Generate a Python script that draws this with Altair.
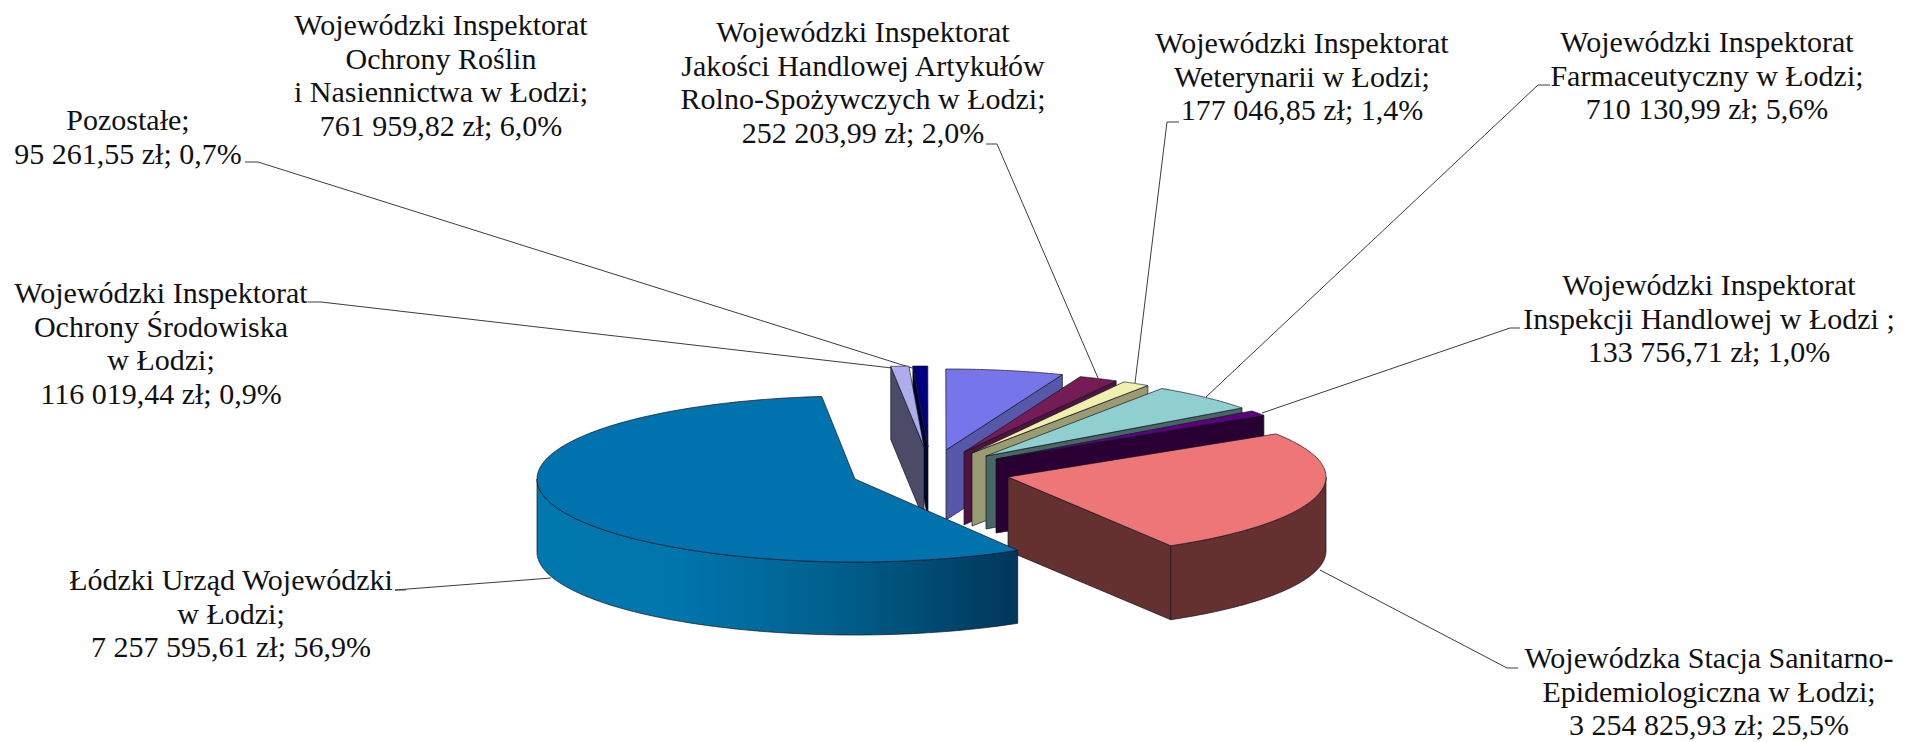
import numpy as np
import pandas as pd
import altair as alt

# --- values ---
names = ["Srodowisko", "Pozostale", "Rosliny", "Jakosc", "Weterynaria",
         "Farmacja", "Handel", "Sanepid", "Urzad"]
amounts = [116019.44, 95261.55, 761959.82, 252203.99, 177046.85,
           710130.99, 133756.71, 3254825.93, 7257595.61]
top_colors = ["#ADADEC", "#000080", "#7676EA", "#751C57", "#EFEFB0",
              "#90CFCF", "#5C0080", "#EE7676", "#0073AE"]
wall_colors = ["#4B4B68", "#00002E", "#5858AA", "#4E1440", "#9B9B73",
               "#476666", "#280033", "#653030", "#0073AE"]
apex_x = [924, 928, 946, 964, 972, 986, 996, 1008, 855]
apex_y = [447, 447, 450, 452, 453, 456, 459, 477, 479]
radius_y = [81, 81, 81, 81, 81, 81, 81, 80, 83]
depth = [73, 73, 70, 73, 73, 73, 74, 74, 73]
start_angle = -6.0
radius_x = 318.0

label_lines = [
    ["Wojewódzki Inspektorat", "Ochrony Środowiska", "w Łodzi;", "116 019,44 zł; 0,9%"],
    ["Pozostałe;", "95 261,55 zł; 0,7%"],
    ["Wojewódzki Inspektorat", "Ochrony Roślin", "i Nasiennictwa w Łodzi;", "761 959,82 zł; 6,0%"],
    ["Wojewódzki Inspektorat", "Jakości Handlowej Artykułów", "Rolno-Spożywczych w Łodzi;", "252 203,99 zł; 2,0%"],
    ["Wojewódzki Inspektorat", "Weterynarii w Łodzi;", "177 046,85 zł; 1,4%"],
    ["Wojewódzki Inspektorat", "Farmaceutyczny w Łodzi;", "710 130,99 zł; 5,6%"],
    ["Wojewódzki Inspektorat", "Inspekcji Handlowej w Łodzi ;", "133 756,71 zł; 1,0%"],
    ["Wojewódzka Stacja Sanitarno-", "Epidemiologiczna w Łodzi;", "3 254 825,93 zł; 25,5%"],
    ["Łódzki Urząd Wojewódzki", "w Łodzi;", "7 257 595,61 zł; 56,9%"],
]
label_cx = [161, 128, 441, 863, 1302, 1707, 1709, 1709, 231]
label_first_y = [294, 121, 26, 33, 44, 43, 286, 659, 581]
line_step = 33.6

leaders = [
    [(308, 302), (321, 302), (892, 368)],
    [(245, 162), (258, 162), (912, 368)],
    [(986, 144), (997, 144), (1098, 378)],
    [(1179, 122), (1167, 122), (1135, 383)],
    [(1550, 85), (1538, 85), (1206, 397)],
    [(1520, 328), (1510, 328), (1262, 413)],
    [(1518, 668), (1507, 668), (1320, 570)],
    [(406, 590), (395, 590), (551, 578)],
]

# --- shared pixel-like scales ---
W, H = 1896, 734
xs = alt.Scale(domain=[8, 8 + W], nice=False, zero=False)
ys = alt.Scale(domain=[8 + H, 8], nice=False, zero=False)
X = alt.X("x:Q", scale=xs, axis=None)
Y = alt.Y("y:Q", scale=ys, axis=None)


def rim(i, a0, a1, n=90):
    t = np.radians(np.linspace(a0, a1, n))
    return (apex_x[i] + radius_x * np.sin(t),
            apex_y[i] - radius_y[i] * np.cos(t))


def poly(px, py, fill):
    px = list(px) + [px[0]]
    py = list(py) + [py[0]]
    df = pd.DataFrame({"x": px, "y": py, "i": range(len(px))})
    return alt.Chart(df).mark_line(fill=fill, stroke="#14141e", strokeWidth=0.7,
                                   interpolate="linear").encode(
        x=X, y=Y, order="i:Q")


shares = np.array(amounts) / sum(amounts) * 360.0
ends = start_angle + np.cumsum(shares)
starts = ends - shares

layers = []
blue_grad = alt.Gradient(gradient="linear", x1=0, x2=1, y1=0, y2=0, stops=[
    alt.GradientStop(offset=0, color="#0077AE"),
    alt.GradientStop(offset=0.3, color="#0075AB"),
    alt.GradientStop(offset=0.6, color="#00618F"),
    alt.GradientStop(offset=0.8, color="#004D75"),
    alt.GradientStop(offset=1, color="#00365A"),
])

draw_order = [1, 0, 2, 3, 4, 5, 6, 7, 8]
for i in draw_order:
    a0, a1 = starts[i], ends[i]
    ax, ay, d = apex_x[i], apex_y[i], depth[i]
    if i <= 1:  # left of north: the start face shows
        tx, ty = rim(i, a0, a0, n=1)
        layers.append(poly([tx[0], tx[0], ax, ax], [ty[0], ty[0] + d, ay + d, ay], wall_colors[i]))
    elif i < 8:  # right side: the end face shows
        tx, ty = rim(i, a1, a1, n=1)
        layers.append(poly([ax, tx[0], tx[0], ax], [ay, ty[0], ty[0] + d, ay + d], wall_colors[i]))
    if i == 7:  # outer wall of the red slice
        x1, y1 = rim(i, 90, a1)
        layers.append(poly(list(x1) + list(x1[::-1]), list(y1) + list((y1 + d)[::-1]), wall_colors[i]))
    if i == 8:  # outer wall of the blue slice
        x1, y1 = rim(i, a0, 270)
        layers.append(poly(list(x1) + list(x1[::-1]), list(y1) + list((y1 + d)[::-1]), blue_grad))
    rx_, ry_ = rim(i, a0, a1)
    layers.append(poly([ax] + list(rx_), [ay] + list(ry_), top_colors[i]))

# leader lines
lead_rows = [{"id": k, "i": j, "x": p[0], "y": p[1]} for k, l in enumerate(leaders) for j, p in enumerate(l)]
leader_layer = alt.Chart(pd.DataFrame(lead_rows)).mark_line(color="#3c3c3c", strokeWidth=1).encode(
    x=X, y=Y, detail="id:N", order="i:Q")

# text
text_rows = []
for k, lines in enumerate(label_lines):
    for j, s in enumerate(lines):
        text_rows.append({"x": label_cx[k], "y": label_first_y[k] + j * line_step, "t": s})
text_layer = alt.Chart(pd.DataFrame(text_rows)).mark_text(
    font="Liberation Serif", fontSize=30, color="#111111", align="center", baseline="middle"
).encode(x=X, y=Y, text="t:N")

chart = alt.layer(leader_layer, *layers, text_layer).properties(
    width=W, height=H, padding=0, autosize=alt.AutoSizeParams(type="none"),
    background="white"
).configure_view(stroke=None)

chart.save("out.html", embed_options={"renderer": "svg", "actions": False})
